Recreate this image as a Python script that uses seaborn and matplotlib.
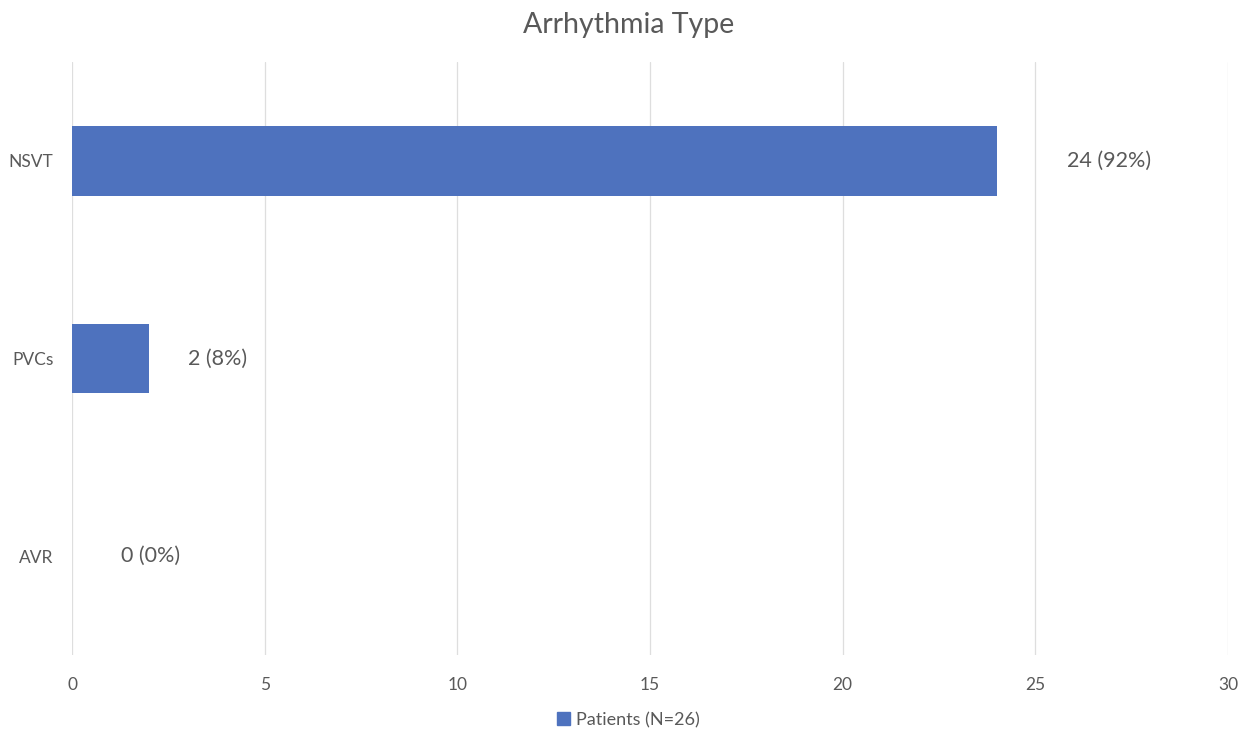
import matplotlib
matplotlib.use("Agg")
import matplotlib.pyplot as plt
import seaborn as sns
import pandas as pd
from matplotlib.patches import Patch

categories = ["NSVT", "PVCs", "AVR"]
patients = [24, 2, 0]
percents = [92, 8, 0]
x_ticks = [0, 5, 10, 15, 20, 25, 30]
series_name = "Patients (N=26)"

BAR = "#4E72BE"
TEXT = "#595959"
GRID = "#DEDEDE"

sns.set_theme(style="white")
plt.rcParams["font.family"] = ["Lato", "DejaVu Sans"]

df = pd.DataFrame({"category": categories, "patients": patients})

fig = plt.figure(figsize=(12.57, 7.37), dpi=100)
ax = fig.add_axes([72 / 1257, 82 / 737, (1228 - 72) / 1257, (655 - 62) / 737])

sns.barplot(data=df, x="patients", y="category", order=categories,
            color=BAR, saturation=1, width=0.354, orient="h",
            linewidth=0, ax=ax)

ax.set_xlim(0, 30)
ax.set_ylim(2.5, -0.5)
ax.set_xticks(x_ticks)
ax.set_xticklabels([str(t) for t in x_ticks])
ax.xaxis.grid(True, color=GRID, linewidth=0.9)
ax.set_axisbelow(True)
for s in ax.spines.values():
    s.set_visible(False)
ax.tick_params(axis="both", length=0, labelsize=12.5, colors=TEXT)
ax.tick_params(axis="x", pad=16)
ax.tick_params(axis="y", pad=13.5)
ax.set_xlabel("")
ax.set_ylabel("")

# value labels to the right of each bar
offsets = [70, 39, 49]
for i, (v, p) in enumerate(zip(patients, percents)):
    ax.annotate(f"{v} ({p}%)", xy=(v, i), xytext=(offsets[i], 0),
                textcoords="offset pixels",
                ha="left", va="center", fontsize=15.5, color=TEXT)

fig.suptitle("Arrhythmia Type", y=0.984, fontsize=20.5, color=TEXT)

fig.legend(handles=[Patch(facecolor=BAR, edgecolor=BAR)], labels=[series_name],
           loc="center", bbox_to_anchor=(0.5, 1 - 720 / 737), frameon=False,
           fontsize=13, labelcolor=TEXT, handlelength=0.7, handleheight=0.7,
           handletextpad=0.35)

fig.savefig("out.png", dpi=100)
